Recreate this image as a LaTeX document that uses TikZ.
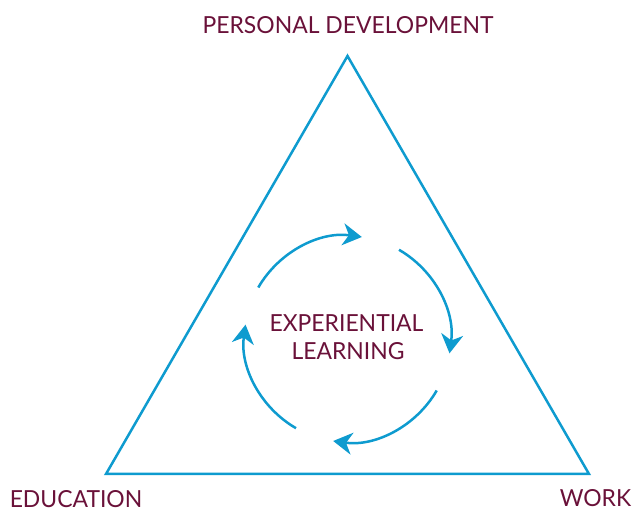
\documentclass[tikz,border=0pt]{standalone}
\usepackage{fontspec}
\setmainfont[FakeStretch=0.975]{Lato}
\usepackage{xcolor}
\usepackage{tikz}
\usetikzlibrary{positioning}
\usetikzlibrary{arrows.meta}
\definecolor{wine}{HTML}{6A1139}
\definecolor{sky}{HTML}{0E9BCF}
\tikzset{
  mylabel/.style={
    text=wine,
    anchor=base,
    inner sep=0pt,
    font=\fontsize{23.5}{28}\selectfont
  },
  myedge/.style={
    draw=sky,
    line width=2.5pt,
    line join=miter,
  },
  myarc/.style={
    draw=sky,
    line width=2.5pt,
    -{Stealth[length=19pt,width=22pt,inset=6pt]},
  },
}
\begin{document}
\begin{tikzpicture}[x=1pt,y=1pt]
       \useasboundingbox (0,0) rectangle (632,513);
       \coordinate (top) at (347.5,457);
       \coordinate (left) at (106,39);
       \coordinate (right) at (589,39);
       \coordinate (c) at (347.5,174);

       \draw[myedge] (top) -- (right) -- (left) -- cycle;

       % cycle of four arcs
       \foreach \a in {150,60,-30,-120}
         \draw[myarc] (c) ++(\a:103) arc[start angle=\a, end angle=\a-68, radius=103];

       \node[mylabel] (pers) at (348,479) {PERSONAL DEVELOPMENT};
       \node[mylabel] (edu) at (76,5) {EDUCATION};
       \node[mylabel] (work) at (595.5,6) {WORK};
       \node[mylabel] (exp) at (346.5,181) {EXPERIENTIAL};
       \node[mylabel] (learn) at (348,153) {LEARNING};
   \end{tikzpicture}
\end{document}
